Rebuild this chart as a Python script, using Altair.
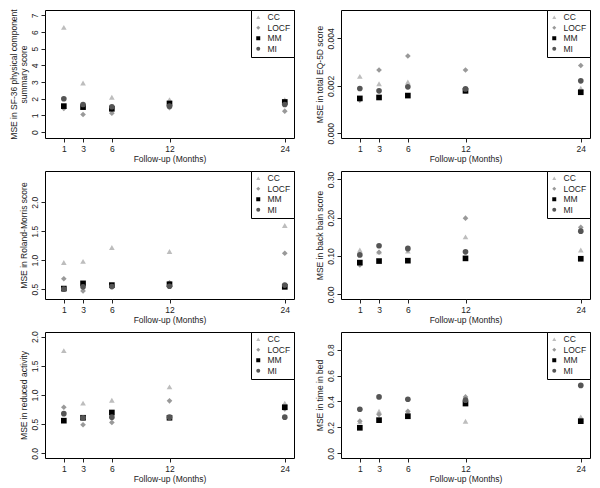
import altair as alt
import pandas as pd

months = [1, 3, 6, 12, 24]
methods = ["CC", "LOCF", "MM", "MI"]
colors = ["#bdbdbd", "#999999", "#000000", "#555555"]
shapes = ["triangle-up", "diamond", "square", "circle"]

# MSE values per outcome, per method (months 1, 3, 6, 12, 24)
sf36 = {
    "CC":   [6.28, 2.95, 2.09, 1.95, 1.95],
    "LOCF": [1.42, 1.06, 1.14, 1.46, 1.26],
    "MM":   [1.56, 1.50, 1.40, 1.72, 1.81],
    "MI":   [2.00, 1.66, 1.52, 1.56, 1.66],
}
eq5d = {
    "CC":   [0.00240, 0.00209, 0.00216, 0.00187, 0.00190],
    "LOCF": [0.00140, 0.00267, 0.00326, 0.00267, 0.00286],
    "MM":   [0.00147, 0.00151, 0.00159, 0.00179, 0.00173],
    "MI":   [0.00189, 0.00179, 0.00196, 0.00187, 0.00221],
}
roland = {
    "CC":   [0.96, 0.98, 1.22, 1.15, 1.60],
    "LOCF": [0.68, 0.47, 0.56, 0.61, 1.12],
    "MM":   [0.51, 0.60, 0.57, 0.585, 0.54],
    "MI":   [0.50, 0.54, 0.545, 0.55, 0.57],
}
backpain = {
    "CC":   [0.116, 0.111, 0.113, 0.150, 0.116],
    "LOCF": [0.077, 0.110, 0.116, 0.199, 0.175],
    "MM":   [0.083, 0.087, 0.088, 0.094, 0.093],
    "MI":   [0.103, 0.127, 0.120, 0.111, 0.165],
}
activity = {
    "CC":   [1.76, 0.86, 0.91, 1.14, 0.86],
    "LOCF": [0.79, 0.49, 0.53, 0.90, 0.76],
    "MM":   [0.56, 0.61, 0.70, 0.61, 0.79],
    "MI":   [0.68, 0.61, 0.62, 0.62, 0.62],
}
timebed = {
    "CC":   [0.243, 0.325, 0.325, 0.248, 0.281],
    "LOCF": [0.248, 0.300, 0.325, 0.435, 0.248],
    "MM":   [0.197, 0.256, 0.286, 0.384, 0.248],
    "MI":   [0.340, 0.435, 0.417, 0.410, 0.524],
}

panels = [
    (sf36, ["MSE in SF-36 physical component", "summary score"], [-0.35, 7.32], [0, 1, 2, 3, 4, 5, 6, 7], "d"),
    (eq5d, "MSE in total EQ-5D score", [-0.0002, 0.0052], [0.0, 0.002, 0.004], ".3f"),
    (roland, "MSE in Roland-Morris score", [0.33, 2.54], [0.5, 1.0, 1.5, 2.0], ".1f"),
    (backpain, "MSE in back bain score", [-0.012, 0.322], [0.0, 0.1, 0.2, 0.3], ".2f"),
    (activity, "MSE in reduced activity", [-0.08, 2.08], [0.0, 0.5, 1.0, 1.5, 2.0], ".1f"),
    (timebed, "MSE in time in bed", [-0.036, 0.936], [0.0, 0.2, 0.4, 0.6, 0.8], ".1f"),
]
heights = [128, 128, 128, 128, 126, 126]


def make_df(d):
    rows = []
    i = 0
    for m in methods:
        for mo, v in zip(months, d[m]):
            rows.append({"month": mo, "mse": v, "method": m, "idx": i})
            i += 1
    return pd.DataFrame(rows)


legend = alt.Legend(
    title=None, orient="top-right", offset=0, padding=3,
    strokeColor="black", fillColor="white", symbolSize=16,
    labelFontSize=8.5, labelFont="Liberation Sans", labelColor="#222",
    rowPadding=1.5, labelOffset=5, symbolStrokeWidth=0, cornerRadius=0,
)

charts = []
for (d, title, dom, ticks, fmt), h in zip(panels, heights):
    df = make_df(d)
    c = alt.Chart(df).mark_point(filled=True, size=32, opacity=1).encode(
        x=alt.X("month:Q",
                scale=alt.Scale(domain=[-0.96, 24.96], nice=False, zero=False),
                axis=alt.Axis(values=months, title="Follow-up (Months)", format="d")),
        y=alt.Y("mse:Q",
                scale=alt.Scale(domain=dom, nice=False, zero=False),
                axis=alt.Axis(values=ticks, format=fmt, title=title,
                              labelAngle=270, labelAlign="center", labelBaseline="bottom",
                              titleLineHeight=10)),
        color=alt.Color("method:N", scale=alt.Scale(domain=methods, range=colors), legend=legend),
        shape=alt.Shape("method:N", scale=alt.Scale(domain=methods, range=shapes), legend=legend),
        order=alt.Order("idx:Q"),
    ).properties(width=249, height=h)
    charts.append(c)

chart = alt.concat(
    *charts, columns=2, spacing={"row": 33, "column": 47}, bounds="flush"
).resolve_scale(
    x="independent", y="independent", color="independent", shape="independent"
).properties(
    padding={"left": 0, "top": 0, "right": 0, "bottom": 0}
).configure_view(
    stroke="black", strokeWidth=1
).configure_axis(
    grid=False, domain=False, tickSize=4, tickColor="#222", tickWidth=1,
    labelFont="Liberation Sans", titleFont="Liberation Sans",
    labelFontSize=8.5, titleFontSize=8.5, titleFontWeight="normal",
    labelColor="#222", titleColor="#222", labelPadding=2, titlePadding=2,
)

chart.save("out.html", embed_options={"renderer": "svg", "actions": False})
